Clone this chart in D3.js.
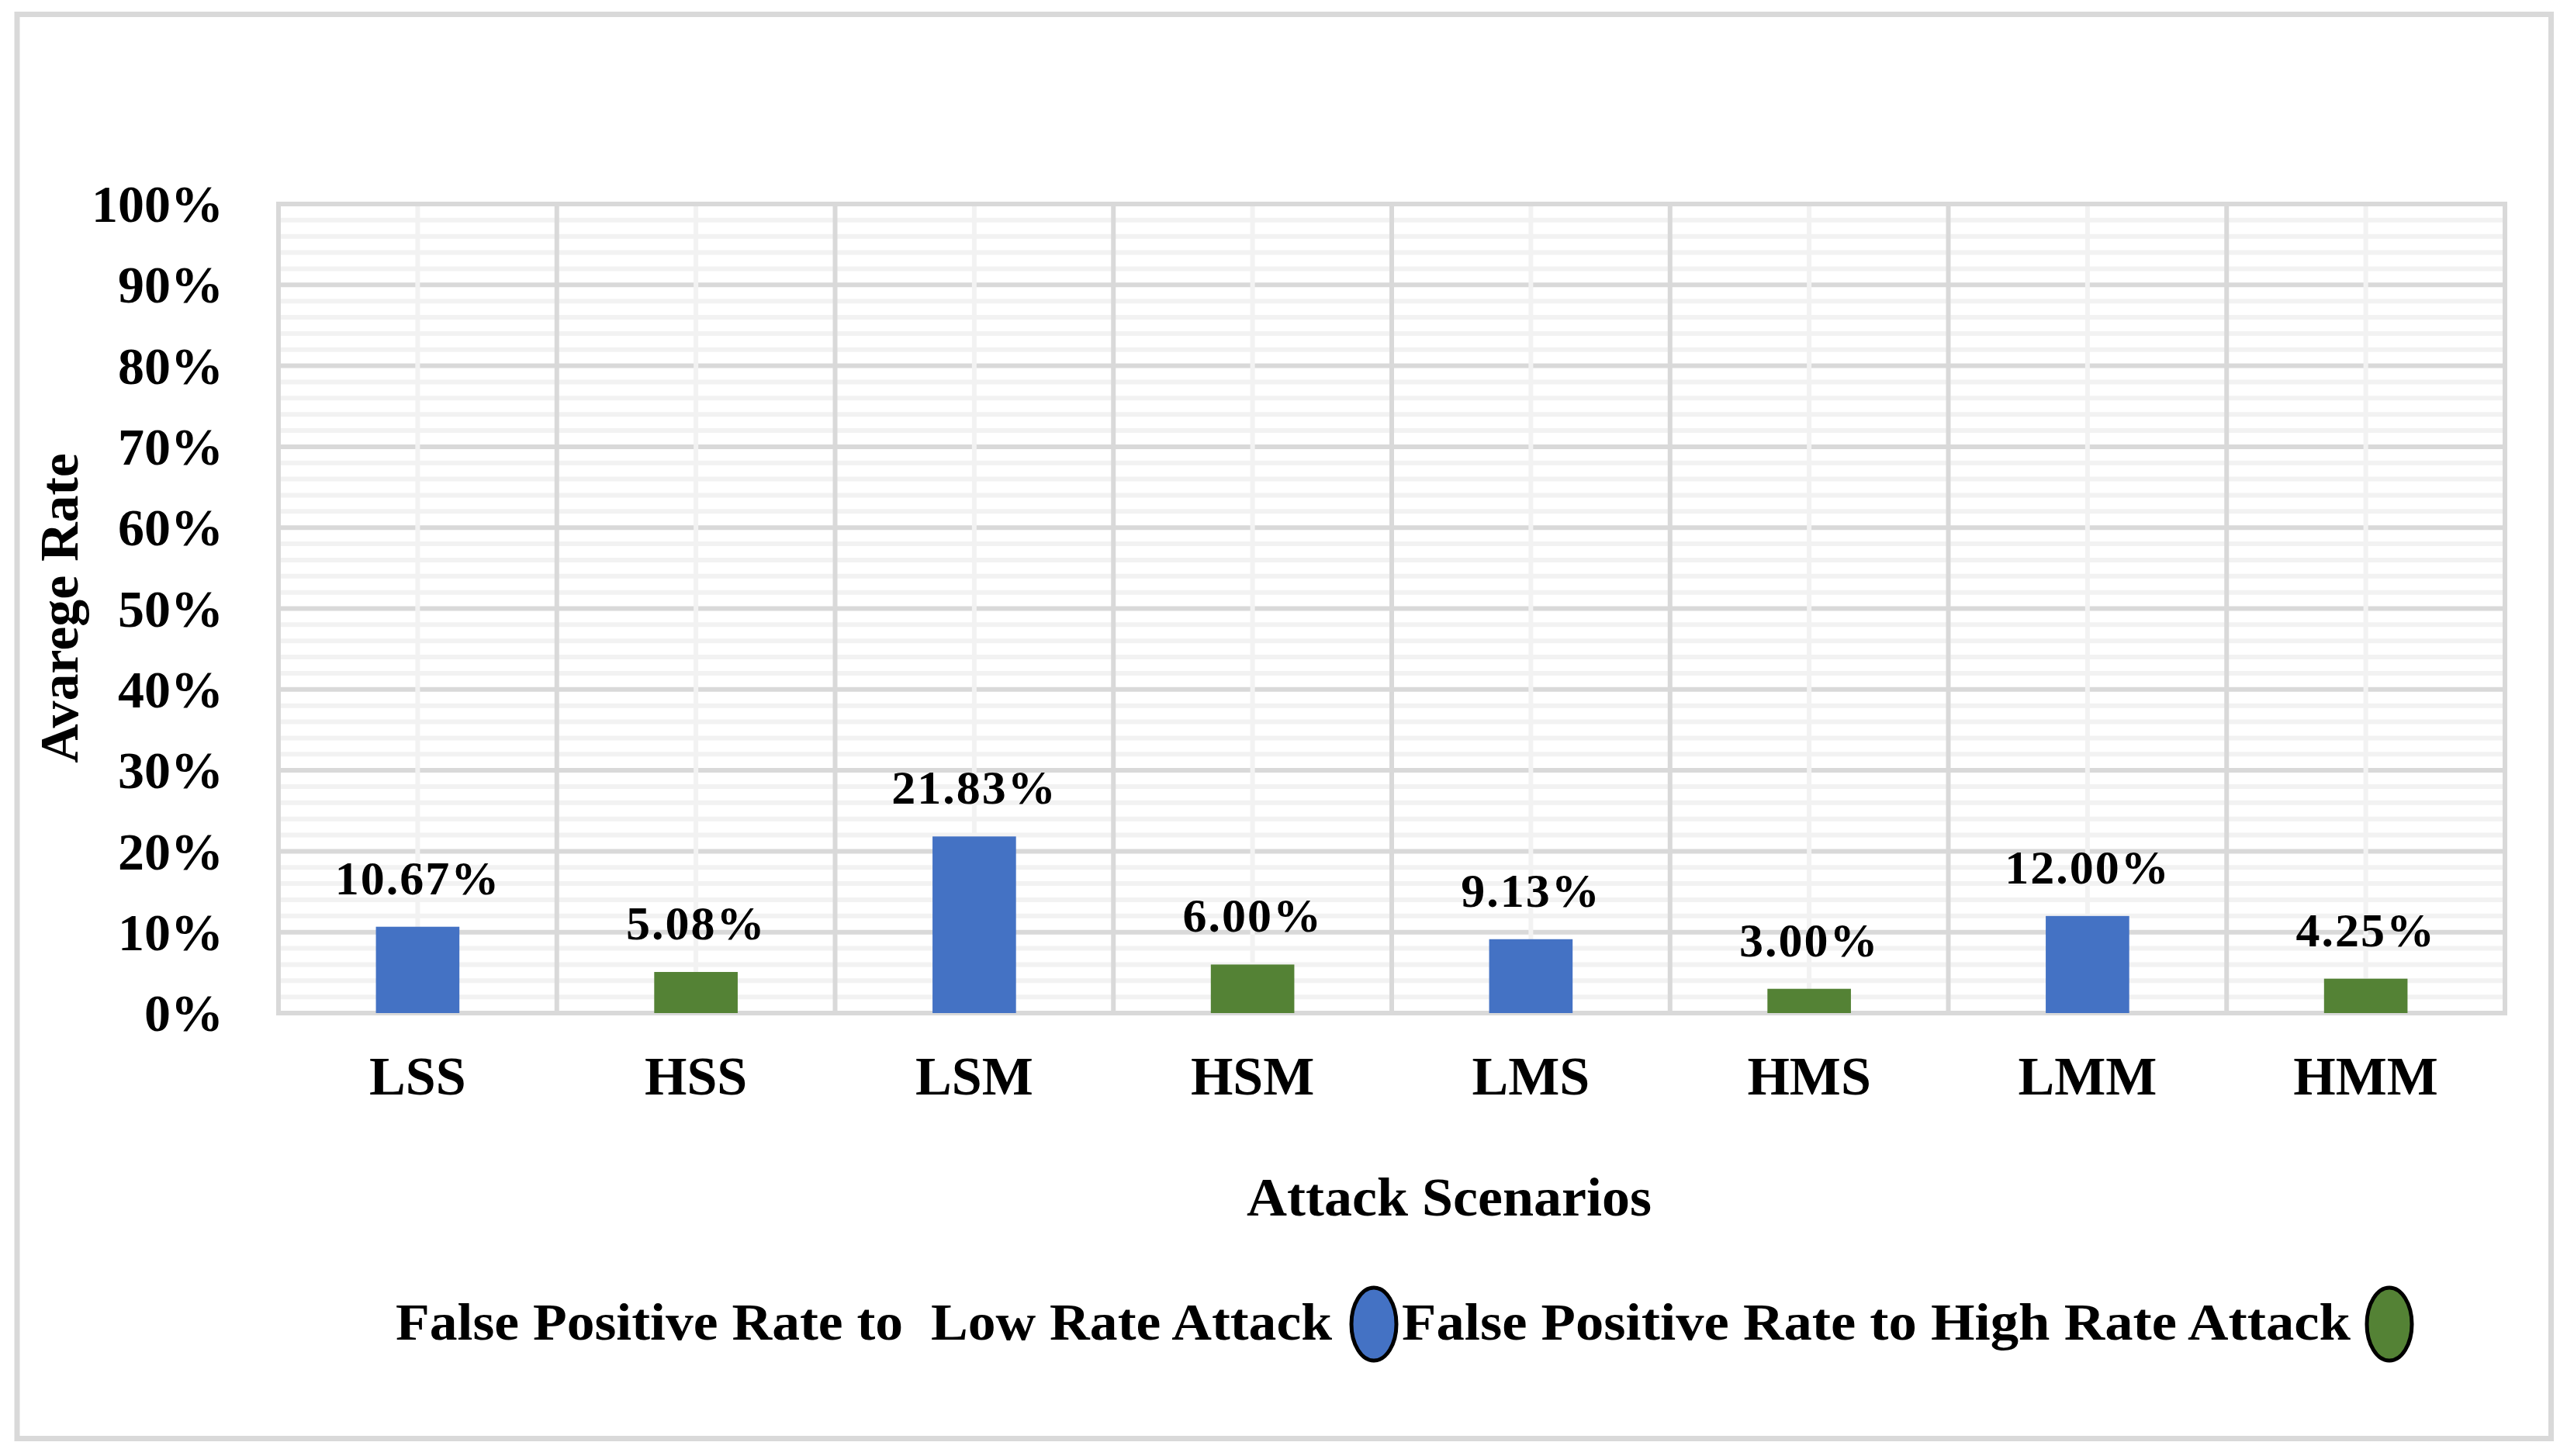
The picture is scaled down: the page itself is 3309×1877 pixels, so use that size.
<!DOCTYPE html>
<html>
<head>
<meta charset="utf-8">
<script src="https://cdn.jsdelivr.net/npm/d3@7"></script>
<style>
	body { margin: 0; background: #fff; }
	text { font-family: "Liberation Serif", "Times New Roman", serif; font-weight: bold; fill: #000; }
</style>
</head>
<body>
<svg id="chart" width="3309" height="1877"></svg>
<script>
// data
var categories = ["LSS", "HSS", "LSM", "HSM", "LMS", "HMS", "LMM", "HMM"];
var lowRate = [10.67, null, 21.83, null, 9.13, null, 12.00, null];
var highRate = [null, 5.08, null, 6.00, null, 3.00, null, 4.25];
var yTicks = [0, 10, 20, 30, 40, 50, 60, 70, 80, 90, 100];
var seriesNames = ["False Positive Rate to  Low Rate Attack", "False Positive Rate to High Rate Attack"];
var colors = ["#4472C4", "#548235"];

var svg = d3.select("#chart");
// 注意: top 是 window 的只读属性，不能用作变量名
var plotLeft = 359, plotRight = 3229, plotTop = 263, plotBottom = 1306;

var x = d3.scaleBand().domain(categories).range([plotLeft, plotRight]).padding(0);
var y = d3.scaleLinear().domain([0, 100]).range([plotBottom, plotTop]);

//外框
function outerFrame() {
	svg.append("rect")
		.attr("x", 22).attr("y", 18.5)
		.attr("width", 3266.5).attr("height", 1836)
		.attr("fill", "#fff")
		.attr("stroke", "#d9d9d9")
		.attr("stroke-width", 7);
}

//网格
function grid() {
	var g = svg.append("g");
	var minor = d3.range(0, 101, 2).filter(function(d) { return d % 10 !== 0; });
	g.selectAll(".minor").data(minor).enter().append("line")
		.attr("x1", plotLeft).attr("x2", plotRight)
		.attr("y1", function(d) { return y(d); })
		.attr("y2", function(d) { return y(d); })
		.style("stroke", "#f2f2f2").style("stroke-width", "6px");
	g.selectAll(".major").data(yTicks).enter().append("line")
		.attr("x1", plotLeft).attr("x2", plotRight)
		.attr("y1", function(d) { return y(d); })
		.attr("y2", function(d) { return y(d); })
		.style("stroke", "#d9d9d9").style("stroke-width", "6px");
	// 类别中线
	g.selectAll(".mid").data(categories).enter().append("line")
		.attr("x1", function(d) { return x(d) + x.bandwidth() / 2; })
		.attr("x2", function(d) { return x(d) + x.bandwidth() / 2; })
		.attr("y1", plotTop + 3).attr("y2", plotBottom - 3)
		.style("stroke", "#f2f2f2").style("stroke-width", "6px");
	// 类别边界
	var edges = categories.map(function(d) { return x(d); }).concat([plotRight]);
	g.selectAll(".edge").data(edges).enter().append("line")
		.attr("x1", function(d) { return d; })
		.attr("x2", function(d) { return d; })
		.attr("y1", plotTop - 3).attr("y2", plotBottom + 3)
		.style("stroke", "#d9d9d9").style("stroke-width", "6px");
}

//柱子和数值
function bars() {
	var bw = x.bandwidth() * 0.3;
	[lowRate, highRate].forEach(function(series, s) {
		var data = categories.map(function(c, i) { return { c: c, v: series[i] }; })
			.filter(function(d) { return d.v !== null; });
		var g = svg.append("g");
		g.selectAll("rect").data(data).enter().append("rect")
			.attr("x", function(d) { return x(d.c) + (x.bandwidth() - bw) / 2; })
			.attr("width", bw)
			.attr("y", function(d) { return y(d.v); })
			.attr("height", function(d) { return y(0) - y(d.v); })
			.attr("fill", colors[s]);
		g.selectAll("text").data(data).enter().append("text")
			.attr("x", function(d) { return x(d.c) + x.bandwidth() / 2; })
			.attr("y", function(d) { return y(d.v) - 42; })
			.attr("text-anchor", "middle")
			.style("font-size", "62px")
			.style("letter-spacing", "2px")
			.text(function(d) { return d.v.toFixed(2) + "%"; });
	});
}

//坐标轴文字
function axes() {
	var g = svg.append("g");
	g.selectAll(".ytick").data(yTicks).enter().append("text")
		.attr("x", 288)
		.attr("y", function(d) { return y(d); })
		.attr("dy", "0.34em")
		.attr("text-anchor", "end")
		.style("font-size", "68px")
		.text(function(d) { return d + "%"; });
	g.selectAll(".xtick").data(categories).enter().append("text")
		.attr("x", function(d) { return x(d) + x.bandwidth() / 2; })
		.attr("y", 1411)
		.attr("text-anchor", "middle")
		.style("font-size", "70px")
		.text(function(d) { return d; });
	g.append("text")
		.attr("transform", "translate(100,784) rotate(-90)")
		.attr("text-anchor", "middle")
		.style("font-size", "70px")
		.text("Avarege Rate");
	g.append("text")
		.attr("x", 1607).attr("y", 1567)
		.attr("textLength", 522)
		.attr("lengthAdjust", "spacingAndGlyphs")
		.style("font-size", "70px")
		.text("Attack Scenarios");
}

//图例
function legend() {
	var g = svg.append("g");
	var items = [
		{ x: 510, len: 1207, cx: 1771 },
		{ x: 1807, len: 1223, cx: 3080 }
	];
	items.forEach(function(it, i) {
		g.append("text")
			.attr("x", it.x).attr("y", 1727)
			.attr("textLength", it.len)
			.attr("lengthAdjust", "spacingAndGlyphs")
			.style("font-size", "68px")
			.style("white-space", "pre")
			.text(seriesNames[i]);
		g.append("ellipse")
			.attr("cx", it.cx).attr("cy", 1707)
			.attr("rx", 29).attr("ry", 47)
			.attr("fill", colors[i])
			.attr("stroke", "#000")
			.attr("stroke-width", 5);
	});
}

outerFrame();
grid();
bars();
axes();
legend();
</script>
</body>
</html>
